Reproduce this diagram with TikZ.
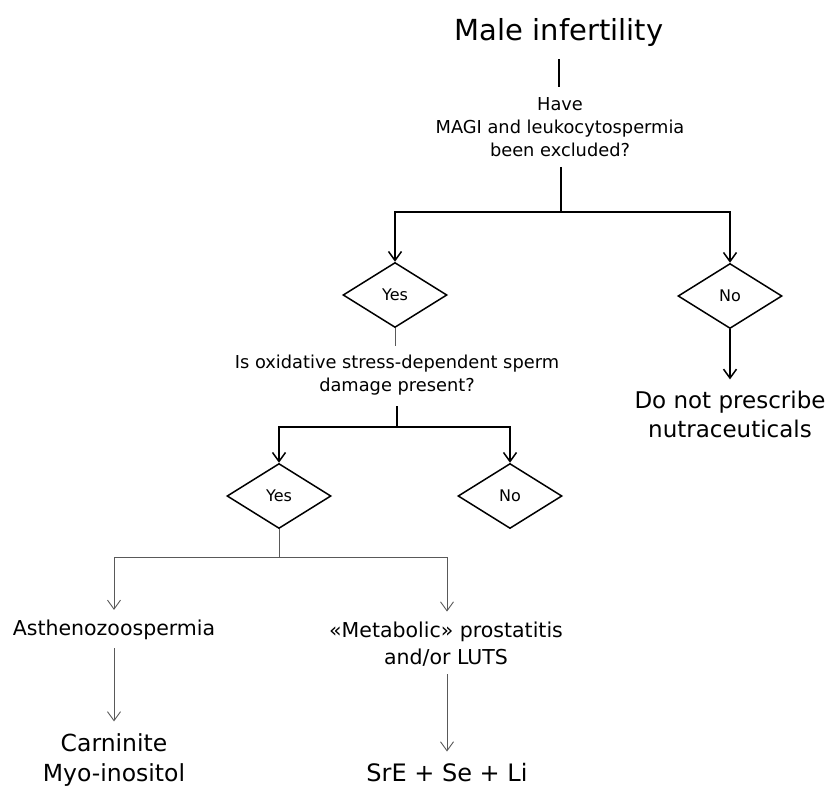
\documentclass[tikz,border=0pt]{standalone}
\usepackage{fontspec}
\setmainfont{DejaVu Sans}
\usetikzlibrary{shapes.geometric,arrows.meta}
\begin{document}
\begin{tikzpicture}[x=1pt, y=-1pt,
    dline/.style={line width=1.5pt, black},
    gline/.style={line width=0.9pt, black!65},
    tip/.style={-{Straight Barb[length=9pt,width=13pt]}},
    choice/.style={diamond, draw, line width=1.5pt, minimum width=104pt, minimum height=65pt, inner sep=0pt, font=\fontsize{16}{18}\selectfont},
    ask/.style={align=center, inner sep=0pt, font=\fontsize{17.8}{23}\selectfont},
    ends/.style={align=center, inner sep=0pt, font=\fontsize{23}{29}\selectfont}]
    \useasboundingbox (0,0) rectangle (829,789);
    % Question nodes
    \node[inner sep=0pt, font=\fontsize{29}{34}\selectfont] (title) at (559,33) {Male infertility};
    \node[ask] (magi) at (560,127) {Have\\MAGI and leukocytospermia\\been excluded?};
    \node[choice] (yesA) at (395,295) {Yes};
    \node[choice] (noA) at (730,296) {No};
    \node[ask] (oxid) at (397,375) {Is oxidative stress-dependent sperm\\damage present?};
    \node[choice] (yesB) at (279,496) {Yes};
    \node[choice] (noB) at (510,496) {No};
    % Outcome nodes
    \node[ends] (nonut) at (730,414) {Do not prescribe\\nutraceuticals};
    \node[ask, font=\fontsize{20.5}{27}\selectfont] (astheno) at (114,630) {Asthenozoospermia};
    \node[ask, font=\fontsize{20.5}{27}\selectfont] (prost) at (446,644) {«Metabolic» prostatitis\\and/or LUTS};
    \node[ends, font=\fontsize{23.5}{30}\selectfont] (carn) at (114,760) {Carninite\\Myo-inositol};
    \node[ends, font=\fontsize{24}{30}\selectfont] (sre) at (447,773) {SrE + Se + Li};
    % Junctions
    \coordinate (jA) at (561,212);
    \coordinate (jB) at (397,427);
    \coordinate (jC) at (279,557);
    % Upper branches
    \draw[dline, shorten <=12pt, shorten >=10pt] (title) -- (magi.north -| title);
    \draw[dline, shorten <=10pt] (magi.south -| jA) -- (jA);
    \draw[dline, tip] (jA) -| (yesA.north);
    \draw[dline, tip] (jA) -| (noA.north);
    \draw[dline, tip, shorten >=11pt] (noA.south) -- (nonut.north);
    \draw[gline, shorten >=9pt] (yesA.south) -- (oxid.north -| yesA.south);
    \draw[dline, shorten <=11pt] (oxid.south -| jB) -- (jB);
    \draw[dline, tip] (jB) -| (yesB.north);
    \draw[dline, tip] (jB) -| (noB.north);
    % Lower branches
    \draw[gline] (yesB.south) -- (jC);
    \draw[gline, tip, shorten >=10pt] (jC) -| (astheno.north);
    \draw[gline, tip, shorten >=10pt] (jC) -| (prost.north -| sre);
    \draw[gline, tip, shorten <=8pt, shorten >=12pt] (astheno.south) -- (carn.north);
    \draw[gline, tip, shorten <=8pt, shorten >=12pt] (prost.south -| sre) -- (sre.north);
\end{tikzpicture}
\end{document}
